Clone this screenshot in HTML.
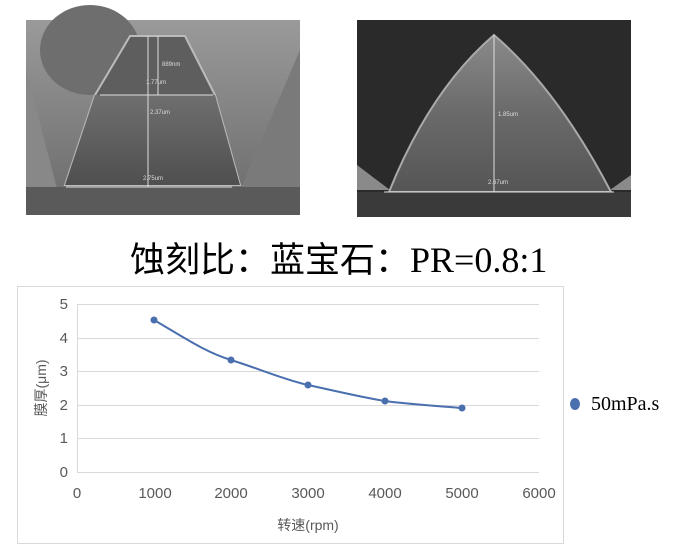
<!DOCTYPE html>
<html><head><meta charset="utf-8"><style>
body{margin:0;width:686px;height:555px;background:#fff;position:relative;overflow:hidden;font-family:"Liberation Sans","Noto Sans CJK SC",sans-serif}
.t{position:absolute;left:130px;top:238px;font-size:35px;line-height:44px;white-space:nowrap;color:#000}
.t .s{font-family:"Liberation Serif",serif;font-size:36px}
</style></head><body>
<svg width="686" height="555" style="position:absolute;left:0;top:0">
<defs>
<linearGradient id="lb" x1="0" y1="0" x2="0" y2="1"><stop offset="0" stop-color="#9a9a9a"/><stop offset="1" stop-color="#6a6a6a"/></linearGradient>
<linearGradient id="tr" x1="0" y1="0" x2="0" y2="1"><stop offset="0" stop-color="#6f6f6f"/><stop offset="1" stop-color="#4f4f4f"/></linearGradient>
<linearGradient id="rt" x1="0" y1="0" x2="0" y2="1"><stop offset="0" stop-color="#8a8a8a"/><stop offset="0.5" stop-color="#6a6a6a"/><stop offset="1" stop-color="#555"/></linearGradient>
</defs>
<rect x="26" y="20" width="274" height="195" fill="url(#lb)"/>
<ellipse cx="90" cy="50" rx="50" ry="45" fill="#6e6e6e"/>
<polygon points="26,70 60,200 26,200" fill="#888"/>
<polygon points="300,50 240,190 300,190" fill="#7a7a7a"/>
<polygon points="130,36 185,36 215,95 240,185 65,185 95,95" fill="#5e5e5e" stroke="#bbb" stroke-width="2"/>
<polygon points="95,95 215,95 240,185 65,185" fill="url(#tr)"/>
<rect x="26" y="187" width="274" height="28" fill="#5a5a5a"/>
<g stroke="#ddd" stroke-width="1" fill="none">
<line x1="148" y1="36" x2="148" y2="187"/><line x1="158" y1="36" x2="158" y2="95"/>
<line x1="100" y1="95" x2="213" y2="95"/><line x1="66" y1="187" x2="232" y2="187"/>
</g>
<g fill="#ddd" font-size="6"><text x="162" y="66">889nm</text><text x="146" y="84">1.77um</text><text x="150" y="114">2.37um</text><text x="143" y="180">2.75um</text></g>
<rect x="357" y="20" width="274" height="197" fill="#2a2a2a"/>
<polygon points="357,165 390,190 357,190" fill="#8a8a8a"/>
<polygon points="631,175 610,190 631,190" fill="#8a8a8a"/>
<path d="M389,192 Q430,90 494,35 Q558,90 611,192 Z" fill="url(#rt)" stroke="#aaa" stroke-width="2"/>
<rect x="357" y="192" width="274" height="25" fill="#3a3a3a"/>
<g stroke="#ddd" stroke-width="1"><line x1="494" y1="35" x2="494" y2="192"/><line x1="384" y1="192" x2="614" y2="192"/></g>
<g fill="#ddd" font-size="6"><text x="498" y="116">1.85um</text><text x="488" y="184">2.67um</text></g>
<rect x="17.5" y="286.5" width="546" height="257" fill="#fff" stroke="#d9d9d9"/>
<g stroke="#d9d9d9" stroke-width="1">
<line x1="77" y1="304.5" x2="539" y2="304.5"/><line x1="77" y1="338.5" x2="539" y2="338.5"/>
<line x1="77" y1="371.5" x2="539" y2="371.5"/><line x1="77" y1="405.5" x2="539" y2="405.5"/>
<line x1="77" y1="438.5" x2="539" y2="438.5"/><line x1="77" y1="472.5" x2="539" y2="472.5"/>
<line x1="77.5" y1="304" x2="77.5" y2="472"/>
</g>
<g font-size="15" fill="#595959" text-anchor="end">
<text x="68" y="309">5</text><text x="68" y="343">4</text><text x="68" y="376">3</text><text x="68" y="410">2</text><text x="68" y="443">1</text><text x="68" y="477">0</text>
</g>
<g font-size="15" fill="#595959" text-anchor="middle">
<text x="77" y="498">0</text><text x="155" y="498">1000</text><text x="231" y="498">2000</text><text x="308" y="498">3000</text><text x="385" y="498">4000</text><text x="462" y="498">5000</text><text x="539" y="498">6000</text>
</g>
<text x="308" y="530" font-size="14" fill="#595959" text-anchor="middle">转速(rpm)</text>
<text transform="translate(46,388) rotate(-90)" font-size="14" fill="#595959" text-anchor="middle">膜厚(μm)</text>
<path d="M154,320 C185,338 205,352 231,360 S285,380 308,385 S365,398 385,401 S440,406 462,408" fill="none" stroke="#4a6fae" stroke-width="2"/>
<g fill="#4a6fae"><circle cx="154" cy="320" r="3.5"/><circle cx="231" cy="360" r="3.5"/><circle cx="308" cy="385" r="3.5"/><circle cx="385" cy="401" r="3.5"/><circle cx="462" cy="408" r="3.5"/>
<ellipse cx="575" cy="404" rx="5" ry="6"/></g>
<text x="591" y="410" font-size="20" font-family="Liberation Serif,serif" fill="#000">50mPa.s</text>
</svg>
<div class="t">蚀刻比：蓝宝石：<span class="s">PR=0.8:1</span></div>
</body></html>
